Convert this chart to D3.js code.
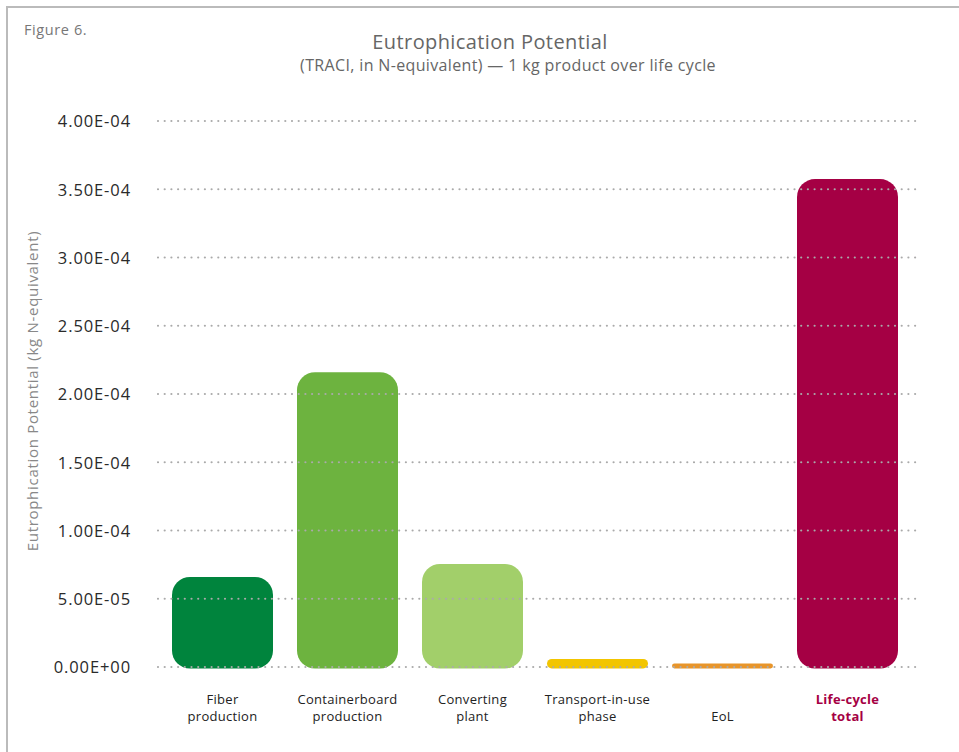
<!DOCTYPE html>
<html><head><meta charset="utf-8">
<script src="https://cdn.jsdelivr.net/npm/d3@7"></script>
<style>
html,body{margin:0;padding:0;background:#fff;}
svg{display:block;font-family:"Open Sans",sans-serif;}
</style></head>
<body><svg id="c" width="959" height="752"></svg>
<script>
const categories = [["Fiber","production"],["Containerboard","production"],["Converting","plant"],["Transport-in-use","phase"],["EoL"],["Life-cycle","total"]];
const values = [6.6e-5, 2.16e-4, 7.55e-5, 5.9e-6, 2.5e-6, 3.575e-4];
const colors = ["#00843d","#6db33f","#a2cf6a","#f2c500","#e8952a","#a50044"];
const yTicks = [0,5e-5,1e-4,1.5e-4,2e-4,2.5e-4,3e-4,3.5e-4,4e-4];
const yTickLabels = ["0.00E+00","5.00E-05","1.00E-04","1.50E-04","2.00E-04","2.50E-04","3.00E-04","3.50E-04","4.00E-04"];

const svg = d3.select("#c");
svg.append("line").attr("x1",7).attr("x2",959).attr("y1",7).attr("y2",7).attr("stroke","#bbb").attr("stroke-width",2);
svg.append("line").attr("x1",7).attr("x2",7).attr("y1",6).attr("y2",752).attr("stroke","#bbb").attr("stroke-width",2);

svg.append("text").attr("x",24).attr("y",35).attr("font-size",14.5).attr("letter-spacing",0.6).attr("fill","#777").text("Figure 6.");
svg.append("text").attr("x",490).attr("y",49).attr("text-anchor","middle").attr("font-size",20).attr("letter-spacing",0.4).attr("fill","#666").text("Eutrophication Potential");
svg.append("text").attr("x",508).attr("y",71).attr("text-anchor","middle").attr("font-size",16).attr("letter-spacing",0.35).attr("fill","#666").text("(TRACI, in N-equivalent) \u2014 1 kg product over life cycle");

const x = d3.scaleBand().domain(d3.range(categories.length)).range([160,910]).paddingInner(0.192).paddingOuter(0.096);
const y = d3.scaleLinear().domain([0,4e-4]).range([667,121]);

const bo = 1.5;
svg.append("g").selectAll("rect").data(values).join("rect")
  .attr("x",(d,i)=>x(i)).attr("width",x.bandwidth())
  .attr("y",d=>y(d)).attr("height",d=>y(0)-y(d)+bo)
  .attr("rx",d=>Math.min(18,(y(0)-y(d)+bo)/2)).attr("ry",d=>Math.min(18,(y(0)-y(d)+bo)/2))
  .attr("fill",(d,i)=>colors[i]);

const yAxis = d3.axisLeft(y).tickValues(yTicks).tickFormat((d,i)=>yTickLabels[i]).tickSize(0).tickPadding(0);
const ga = svg.append("g").attr("transform","translate(131,0)").call(yAxis);
ga.select(".domain").remove();
ga.selectAll("text").attr("font-size",16.5).attr("letter-spacing",0.9).attr("fill","#2a2a2a").attr("font-family","'Open Sans', sans-serif").attr("dy","0.35em");
svg.append("g").selectAll("line").data(yTicks).join("line")
  .attr("x1",158).attr("x2",918).attr("y1",d=>y(d)).attr("y2",d=>y(d))
  .attr("stroke","#aaa").attr("stroke-width",2.2).attr("stroke-linecap","round").attr("stroke-dasharray","0,6.7");

const xl = svg.append("g");
categories.forEach((lines,i)=>{
  const t = xl.append("text").attr("x",x(i)+x.bandwidth()/2).attr("text-anchor","middle")
    .attr("font-size",13).attr("letter-spacing",0.3).attr("fill",i===5?"#a50044":"#222").attr("font-weight",i===5?"bold":"normal");
  const start = lines.length===1 ? 721 : 704;
  lines.forEach((l,j)=>t.append("tspan").attr("x",x(i)+x.bandwidth()/2).attr("y",start+j*17).text(l));
});

svg.append("text").attr("transform","translate(38,391) rotate(-90)").attr("text-anchor","middle")
  .attr("font-size",15).attr("letter-spacing",0.7).attr("fill","#888").text("Eutrophication Potential (kg N-equivalent)");
</script></body></html>
